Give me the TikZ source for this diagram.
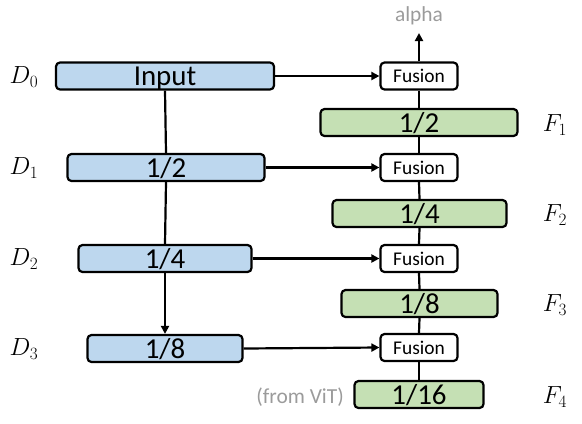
\documentclass[tikz,border=0pt]{standalone}
\usepackage{fontspec}
\setmainfont{Carlito}
\usetikzlibrary{arrows.meta}
\definecolor{bluefill}{HTML}{BDD7EE}
\definecolor{greenfill}{HTML}{C5E0B4}
\definecolor{graytext}{RGB}{155,155,155}
\tikzset{
  box/.style={draw=black, line width=2.2bp, rounded corners=4bp, inner sep=0pt,
    font=\fontsize{29}{29}\selectfont, minimum height=27bp, text height=19.5bp, text depth=0pt},
  enc/.style={box, fill=bluefill},
  dec/.style={box, fill=greenfill},
  fus/.style={draw=black, line width=2.2bp, rounded corners=4bp, fill=white, inner sep=0pt,
    minimum width=77bp, minimum height=27bp, text height=13.4bp, text depth=0pt,
    font=\fontsize{19.5}{19.5}\selectfont},
  conn/.style={line width=2.2bp},
  arr/.style={conn, -{Triangle[length=8bp,width=8bp]}},
  lbl/.style={font=\fontsize{26}{26}\selectfont, inner sep=0pt},
  note/.style={text=graytext, inner sep=0pt, font=\fontsize{21.5}{21.5}\selectfont}
}
\begin{document}
\begin{tikzpicture}[x=1bp,y=-1bp]
\useasboundingbox (0,0) rectangle (582,423);
% encoder
\node[enc, minimum width=218bp] (d0) at (165,76) {Input};
\node[enc, minimum width=197bp] (d1) at (166,167.5) {1/2};
\node[enc, minimum width=173bp] (d2) at (165,258.5) {1/4};
\node[enc, minimum width=155bp] (d3) at (165,348.5) {1/8};
% fusion
\node[fus] (f0) at (419,76) {Fusion};
\node[fus] (f1) at (419,167.5) {Fusion};
\node[fus] (f2) at (419,258.5) {Fusion};
\node[fus] (f3) at (419,347.5) {Fusion};
% decoder
\node[dec, minimum width=197bp] (g1) at (419,122.5) {1/2};
\node[dec, minimum width=174bp] (g2) at (419.5,213.5) {1/4};
\node[dec, minimum width=156bp] (g3) at (419.5,303.5) {1/8};
\node[dec, minimum width=129bp] (g4) at (419,394.5) {1/16};
% labels
\node[lbl] (ld0) at (24,77) {$D_0$};
\node[lbl] (ld1) at (24,168) {$D_1$};
\node[lbl] (ld2) at (24,259) {$D_2$};
\node[lbl] (ld3) at (24,349) {$D_3$};
\node[lbl] (lf1) at (555,125) {$F_1$};
\node[lbl] (lf2) at (555,215) {$F_2$};
\node[lbl] (lf3) at (555,305) {$F_3$};
\node[lbl] (lf4) at (555,397) {$F_4$};
\node[note] (alpha) at (419,16) {alpha};
\node[note, anchor=east] (vit) at (344,397) {(from ViT)};
% encoder chain
\draw[conn] (d0.south) -- (d1.north);
\draw[conn] (d1.south) -- (d2.north);
\draw[arr] (d2.south) -- (d3.north);
% lateral
\draw[arr] (d0.east) -- (f0.west);
\draw[arr] (d1.east) -- (f1.west);
\draw[arr] (d2.east) -- (f2.west);
\draw[arr] (d3.east) -- (f3.west);
% decoder chain
\draw[conn] (g4.north) -- (f3.south);
\draw[conn] (f3.north) -- (g3.south);
\draw[conn] (g3.north) -- (f2.south);
\draw[conn] (f2.north) -- (g2.south);
\draw[conn] (g2.north) -- (f1.south);
\draw[conn] (f1.north) -- (g1.south);
\draw[conn] (g1.north) -- (f0.south);
\draw[arr] (f0.north) -- (alpha.south |- 0,33);
\end{tikzpicture}
\end{document}
